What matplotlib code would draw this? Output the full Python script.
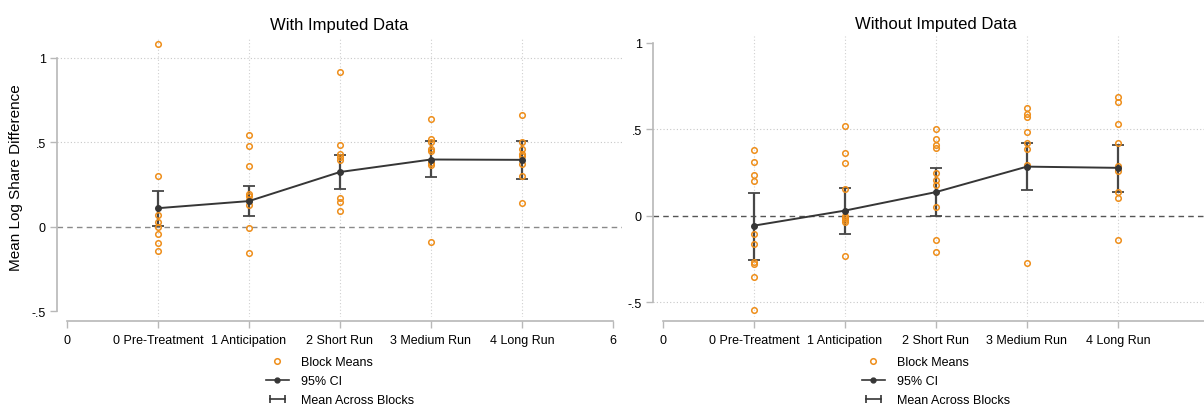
import matplotlib
matplotlib.use("Agg")
import matplotlib.pyplot as plt
from matplotlib.lines import Line2D
from matplotlib.legend_handler import HandlerLine2D

plt.rcParams["font.family"] = ["Liberation Sans", "DejaVu Sans"]

CATEGORIES = ["0 Pre-Treatment", "1 Anticipation", "2 Short Run", "3 Medium Run", "4 Long Run"]
CAT_POS = [1, 2, 3, 4, 5]

# With imputed data
IMP_BLOCKS = [
    [1.085, 0.30, 0.071, 0.031, -0.002, -0.04, -0.093, -0.14],
    [0.546, 0.479, 0.36, 0.197, 0.183, 0.158, 0.131, -0.005, -0.152],
    [0.919, 0.483, 0.43, 0.414, 0.395, 0.171, 0.149, 0.094],
    [0.636, 0.523, 0.503, 0.464, 0.451, 0.381, 0.365, -0.087],
    [0.661, 0.505, 0.46, 0.432, 0.42, 0.371, 0.304, 0.144],
]
IMP_MEAN = [0.111, 0.153, 0.325, 0.399, 0.397]
IMP_LO = [0.003, 0.064, 0.225, 0.294, 0.283]
IMP_HI = [0.213, 0.24, 0.424, 0.506, 0.511]

# Without imputed data
RAW_BLOCKS = [
    [0.38, 0.31, 0.234, 0.201, -0.104, -0.16, -0.269, -0.277, -0.351, -0.544],
    [0.522, 0.361, 0.308, 0.156, 0.0, -0.012, -0.022, -0.034, -0.232],
    [0.505, 0.443, 0.411, 0.395, 0.25, 0.21, 0.179, 0.052, -0.14, -0.21],
    [0.621, 0.592, 0.569, 0.488, 0.42, 0.387, 0.297, -0.27],
    [0.69, 0.66, 0.53, 0.424, 0.286, 0.257, 0.14, 0.101, -0.14],
]
RAW_MEAN = [-0.056, 0.031, 0.138, 0.285, 0.278]
RAW_LO = [-0.252, -0.106, 0.0, 0.148, 0.138]
RAW_HI = [0.133, 0.159, 0.275, 0.424, 0.412]

ORANGE = "#EE8E1A"
DARK = "#363636"
AXIS_GREY = "#b8b8b8"

W, H = 1204, 406
fig = plt.figure(figsize=(W / 100, H / 100), dpi=100)


def draw_panel(rect, title, blocks, mean, lo, hi, ylim, grid_y, zero_color, last_label):
    ax = fig.add_axes(rect)
    ax.set_xlim(-0.11, 6.1)
    ax.set_ylim(*ylim)

    for x in CAT_POS:
        ax.axvline(x, color="#d0d0d0", lw=0.8, ls=(0, (1, 2)), zorder=0)
    for y in grid_y:
        ax.axhline(y, color="#c8c8c8", lw=0.8, ls=(0, (1, 2)), zorder=0)
    ax.axhline(0, color=zero_color, lw=1.0, ls=(0, (4, 3)), zorder=1)

    for x, vals in zip(CAT_POS, blocks):
        ax.plot([x] * len(vals), vals, ls="none", marker="o", ms=4,
                mfc="none", mec=ORANGE, mew=1.1, zorder=4)

    ax.errorbar(CAT_POS, mean, yerr=[[m - l for m, l in zip(mean, lo)],
                                     [h - m for m, h in zip(mean, hi)]],
                fmt="none", ecolor="#474747", elinewidth=1.6, capsize=4,
                capthick=1.3, zorder=3)
    ax.plot(CAT_POS, mean, color=DARK, lw=1.4, marker="o", ms=4, zorder=5)

    ax.set_title(title, fontsize=12, pad=6)

    for s in ("top", "right"):
        ax.spines[s].set_visible(False)
    ax.spines["left"].set_color(AXIS_GREY)
    ax.spines["bottom"].set_color(AXIS_GREY)
    ax.spines["left"].set_linewidth(1.2)
    ax.spines["bottom"].set_linewidth(1.2)
    ax.spines["left"].set_bounds(-0.5, 1)
    ax.spines["bottom"].set_bounds(0, 6)
    ax.spines["bottom"].set_position(("outward", 3))

    ax.set_yticks([-0.5, 0, 0.5, 1])
    ax.set_yticklabels(["-.5", "0", ".5", "1"])
    ax.set_xticks([0] + CAT_POS + [6])
    ax.set_xticklabels(["0"] + CATEGORIES + [last_label])
    ax.tick_params(axis="both", colors=AXIS_GREY, length=5, width=1.0,
                   labelcolor="black", labelsize=9)
    ax.tick_params(axis="y", pad=3)
    ax.tick_params(axis="x", pad=4)
    return ax


bottom = (H - 318) / H
height = 280 / H
ax1 = draw_panel([57 / W, bottom, 565 / W, height], "With Imputed Data",
                 IMP_BLOCKS, IMP_MEAN, IMP_LO, IMP_HI, (-0.533, 1.124), [0.5, 1],
                 "#8a8a8a", "6")
ax2 = draw_panel([653 / W, bottom, 565 / W, 281 / H], "Without Imputed Data",
                 RAW_BLOCKS, RAW_MEAN, RAW_LO, RAW_HI, (-0.584, 1.04), [-0.5, 0.5],
                 "#555555", "")

fig.text(16 / W, (H - 178) / H, "Mean Log Share Difference", rotation=90,
         ha="center", va="center", fontsize=11)

h_blocks = Line2D([], [], ls="none", marker="o", ms=4, mfc="none", mec=ORANGE, mew=1.1)
h_ci = Line2D([], [], color=DARK, lw=1.2, marker="o", ms=3.5)
h_mean = Line2D([], [], color=DARK, lw=1.2, marker="|", ms=6, mew=1.2)

for ax, x0 in ((ax1, 266), (ax2, 862)):
    ax.legend([h_blocks, h_ci, h_mean], ["Block Means", "95% CI", "Mean Across Blocks"],
              loc="upper left", bbox_to_anchor=(x0 / W, (H - 357) / H),
              bbox_transform=fig.transFigure, frameon=False, fontsize=9,
              handlelength=1.8, handletextpad=1.0, labelspacing=0.58,
              borderpad=0, borderaxespad=0,
              handler_map={h_mean: HandlerLine2D(numpoints=2)})

fig.savefig("out.png", dpi=100)
